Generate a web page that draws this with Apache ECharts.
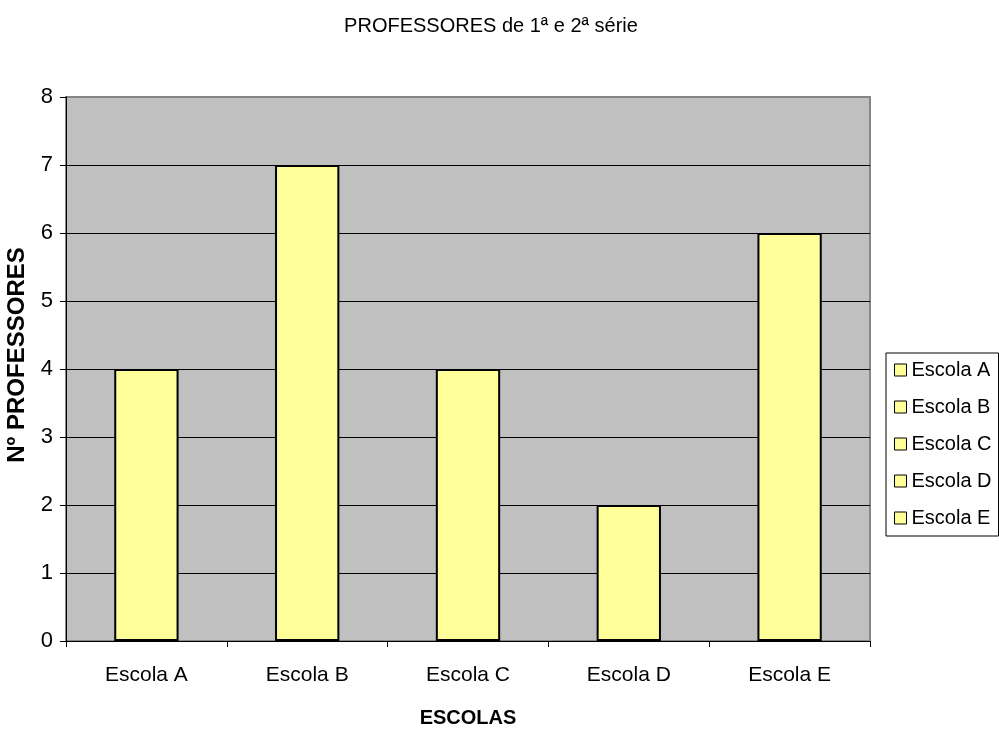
<!DOCTYPE html>
<html>
<head>
<meta charset="utf-8">
<title>PROFESSORES de 1ª e 2ª série</title>
<script src="https://cdn.jsdelivr.net/npm/echarts@6/dist/echarts.min.js"></script>
<style>
  html, body { margin: 0; padding: 0; background: #fff; }
  #chart { width: 999px; height: 731px; }
</style>
</head>
<body>
<div id="chart"></div>
<script>
// Teachers of 1st and 2nd grade, per school
const escolas = ['Escola A', 'Escola B', 'Escola C', 'Escola D', 'Escola E'];
const professores = [4, 7, 4, 2, 6];
const yTicks = { min: 0, max: 8, interval: 1 };

const FONT = 'Liberation Sans, Arial, sans-serif';
const BAR_FILL = '#FFFF99';
const FRAME_GREY = '#868686';

// One series per school so each gets its own legend entry; stacking keeps
// every bar centred in its category slot.
const series = escolas.map((nome, i) => ({
  name: nome,
  type: 'bar',
  stack: 'escolas',
  barWidth: '40%',
  itemStyle: { color: BAR_FILL, borderColor: '#000', borderWidth: 2 },
  emphasis: { disabled: true },
  data: professores.map((v, j) => (j === i ? v : '-'))
}));

// Gridlines are black except the top one, which belongs to the grey frame.
const nLines = (yTicks.max - yTicks.min) / yTicks.interval + 1;
const gridColors = Array.from({ length: nLines }, (_, k) => (k === nLines - 1 ? FRAME_GREY : '#000'));

const chart = echarts.init(document.getElementById('chart'), null, { renderer: 'canvas' });
chart.setOption({
  animation: false,
  backgroundColor: '#fff',
  textStyle: { fontFamily: FONT, color: '#000' },
  title: {
    text: 'PROFESSORES de 1ª e 2ª série',
    left: 486,
    textAlign: 'center',
    top: 11,
    textStyle: { fontFamily: FONT, fontSize: 20, fontWeight: 'normal', color: '#000' }
  },
  legend: {
    orient: 'vertical',
    left: 886,
    top: 353,
    padding: [7, 7, 8, 8],
    borderColor: '#000',
    borderWidth: 1,
    backgroundColor: '#fff',
    itemWidth: 12,
    itemHeight: 12,
    itemGap: 17,
    icon: 'rect',
    itemStyle: { color: BAR_FILL, borderColor: '#000', borderWidth: 1 },
    textStyle: { fontFamily: FONT, fontSize: 20, lineHeight: 20, color: '#000' },
    selectedMode: false,
    data: escolas
  },
  grid: {
    left: 66,
    right: 129,
    top: 97,
    bottom: 90,
    outerBoundsMode: 'none',
    show: true,
    backgroundColor: '#C0C0C0',
    borderColor: FRAME_GREY,
    borderWidth: 2
  },
  xAxis: {
    type: 'category',
    data: escolas,
    name: 'ESCOLAS',
    nameLocation: 'middle',
    nameGap: 67,
    nameTextStyle: { fontFamily: FONT, fontSize: 20, fontWeight: 'bold', color: '#000' },
    axisLine: { lineStyle: { color: '#000', width: 1 } },
    axisTick: { show: true, length: 6, lineStyle: { color: '#000' } },
    axisLabel: { fontFamily: FONT, fontSize: 21, color: '#000', margin: 24 },
    splitLine: { show: false }
  },
  yAxis: {
    type: 'value',
    min: yTicks.min,
    max: yTicks.max,
    interval: yTicks.interval,
    name: 'Nº PROFESSORES',
    nameLocation: 'middle',
    nameGap: 29,
    nameRotate: 90,
    nameTextStyle: { fontFamily: FONT, fontSize: 24, fontWeight: 'bold', color: '#000', padding: [0, 0, 0, 28] },
    axisLine: { show: true, lineStyle: { color: '#000', width: 1 } },
    axisTick: { show: true, length: 6, lineStyle: { color: '#000' } },
    axisLabel: { fontFamily: FONT, fontSize: 22, color: '#000', margin: 13 },
    splitLine: { show: true, lineStyle: { color: gridColors, width: 1 } }
  },
  series: series
});
</script>
</body>
</html>
